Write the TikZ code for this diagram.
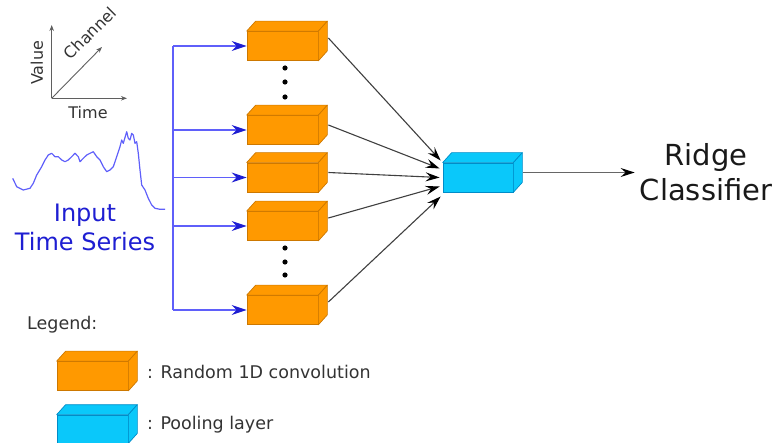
\documentclass[tikz,border=0pt]{standalone}
\usepackage{fontspec}
\setmainfont{DejaVu Sans}
\usetikzlibrary{arrows.meta,calc}
\definecolor{orng}{RGB}{255,153,0}
\definecolor{orngd}{RGB}{205,120,0}
\definecolor{cyn}{RGB}{10,200,250}
\definecolor{cynd}{RGB}{0,140,200}
\definecolor{tsblue}{RGB}{95,95,250}
\definecolor{tsbluedark}{RGB}{30,30,210}
\definecolor{txtgray}{RGB}{51,51,51}
\definecolor{axgray}{RGB}{95,95,95}
\newcommand\mkfaces[3]{%
  \filldraw[fill=#2,draw=#3,line width=0.7pt,line join=round]
    (#1.north west) -- ++(9,-10) -- ($(#1.north east)+(9,-10)$) -- (#1.north east) -- cycle;
  \filldraw[fill=#2,draw=#3,line width=0.7pt,line join=round]
    (#1.north east) -- ++(9,-10) -- ($(#1.south east)+(9,-10)$) -- (#1.south east) -- cycle;}
\begin{document}
\begin{tikzpicture}[x=1pt,y=-1pt,
  conv/.style={draw=orngd,fill=orng,line width=0.7pt,minimum width=71pt,minimum height=29pt,inner sep=0pt},
  poolbox/.style={draw=cynd,fill=cyn,line width=0.7pt,minimum width=70pt,minimum height=29pt,inner sep=0pt},
  feed/.style={color=tsblue,line width=1.2pt},
  feedarrow/.style={feed,-{Stealth[length=15pt,width=10pt,inset=5pt,color=tsbluedark]}},
  blackarrow/.style={color=black!75,line width=1.1pt,-{Stealth[length=14pt,width=9pt,inset=5pt,color=black]}},
  axis/.style={color=axgray,line width=0.9pt,-{Stealth[length=6pt,width=4.5pt]}},
  axlabel/.style={text=txtgray,font=\fontsize{16}{19}\selectfont,inner sep=0pt},
  legtext/.style={text=txtgray,font=\fontsize{17.5}{21}\selectfont,inner sep=0pt,anchor=west},
  vdot/.style={fill=black}]
\useasboundingbox (0,0) rectangle (776,443);

% axes sketch
\coordinate (org) at (51.7,98.3);
\coordinate (vtop) at (51.7,25);
\coordinate (tend) at (127,98.3);
\coordinate (cend) at (102,47);
\draw[axis] (org) -- (vtop);
\draw[axis] (org) -- (tend);
\draw[axis] (org) -- (cend);
\node[axlabel,rotate=90] (lval) at (37,63) {Value};
\node[axlabel,rotate=45] (lch) at (90,33) {Channel};
\node[axlabel] (ltime) at (88,113) {Time};

% time series
\draw[tsblue,line width=1.2pt,line join=round]
 (12.7,178.3) -- (16.7,186.7) -- (23.3,190) -- (30,188.3) -- (33.3,183.3) -- (36.7,175) -- (41.7,166.7) -- (45,160) -- (48.3,155) -- (51.7,153.3) -- (55,156.7) -- (58.3,156.7) -- (61.7,160) -- (65,161.7) -- (68.3,160) -- (71.7,156.7) -- (75,153.3) -- (78.3,156.7) -- (80,161.7) -- (83.3,158.3) -- (86.7,155) -- (90,153.3) -- (93.3,151.7) -- (96.7,156.7) -- (100,160) -- (103.3,166.7) -- (106.7,171.7) -- (110,170) -- (113.3,166.7) -- (116.7,156.7) -- (120,146.7) -- (121.7,140) -- (123.3,143.3) -- (126.7,131.7) -- (128.3,138.3) -- (130,140) -- (131.7,133.3) -- (133.3,135) -- (135,143.3) -- (136.7,141.7) -- (138.3,153.3) -- (140,170) -- (141.7,185) -- (145,190) -- (148.3,198.3) -- (151.7,205) -- (155,208.3) -- (160,209.3) -- (165,209.3);
\node[text=tsbluedark,font=\fontsize{24}{29}\selectfont,align=center,inner sep=0pt] (its) at (85,227) {Input\\Time Series};

% conv boxes
\node[conv] (b1) at (282.5,46) {};
\node[conv] (b2) at (282.5,130) {};
\node[conv] (b3) at (282.5,177.5) {};
\node[conv] (b4) at (282.5,226) {};
\node[conv] (b5) at (282.5,310) {};
\foreach \b in {b1,b2,b3,b4,b5} {\mkfaces{\b}{orng}{orngd}}

% dots
\foreach \yy in {68,82,97,248,262,275} \fill[vdot] (285,\yy) circle (2.6);

% pooling box
\node[poolbox] (pool) at (478,177.5) {};
\mkfaces{pool}{cyn}{cynd}

% classifier
\node[font=\fontsize{29}{35}\selectfont,align=center,text=black!90,inner sep=5pt] (rc) at (706,172.5) {Ridge\\Classifier};

% feed lines
\coordinate (ttop) at (173,46);
\coordinate (tbot) at (173,310);
\draw[feed] (ttop) -- (tbot);
\foreach \b in {b1,b2,b3,b4,b5} \draw[feedarrow] (ttop |- \b.west) -- (\b.west);

% to pooling
\draw[blackarrow] ($(b1.east)+(10,-8)$) -- ($(pool.west)+(-2,-17)$);
\draw[blackarrow] ($(b2.east)+(10,-5)$) -- ($(pool.west)+(-3,-9)$);
\draw[blackarrow] ($(b3.east)+(10,-5)$) -- ($(pool.west)+(-3,0)$);
\draw[blackarrow] ($(b4.east)+(10,-8)$) -- ($(pool.west)+(-3,9)$);
\draw[blackarrow] ($(b5.east)+(10,-8)$) -- ($(pool.west)+(-2,19)$);

% output
\draw[blackarrow,color=black!60] ($(pool.east)+(10,-5)$) -- (rc.west);

% legend
\node[legtext] (leg) at (27,325) {Legend:};
\node[conv] (lo) at (92.5,376) {};
\mkfaces{lo}{orng}{orngd}
\node[poolbox,minimum width=71pt,minimum height=28pt] (lc) at (92.5,429) {};
\mkfaces{lc}{cyn}{cynd}
\node[legtext] (lot) at (147,372) {: Random 1D convolution};
\node[legtext] (lct) at (147,425) {: Pooling layer};
\end{tikzpicture}
\end{document}
